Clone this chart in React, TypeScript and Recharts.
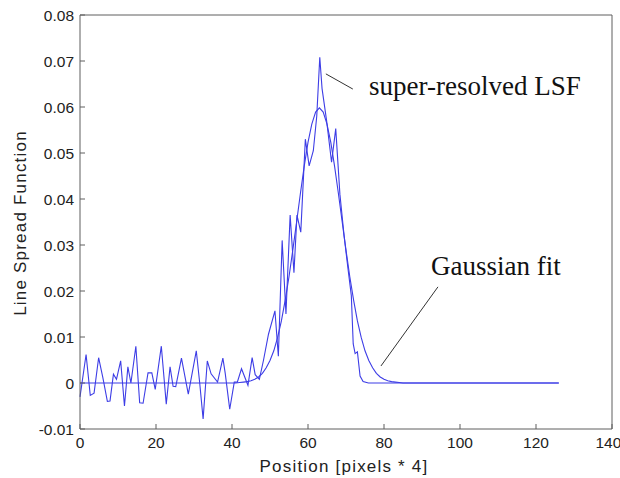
import { LineChart, Line, XAxis, YAxis, ReferenceLine, ReferenceDot } from 'recharts'

// super-resolved LSF
const lsfX = [
  0, 1.6, 2.7, 3.7, 4.9, 6.0, 7.2, 7.9, 8.8, 9.6, 10.7, 11.7, 12.6, 13.4, 14.7, 15.7, 16.6, 17.9, 18.9, 19.8,
  21.4, 22.7, 23.7, 24.5, 25.2, 26.7, 28.5, 30.6, 31.5, 32.4, 33.5, 34.5, 36.2, 37.6, 38.2, 39.4, 40.6, 41.4,
  42.5, 44.2, 45.3, 46.1, 47.2, 48.3, 49.6, 51.3, 52.2, 53.2, 54.2, 55.3, 56.3, 57.1, 58.1, 59.3, 60.3, 61.4,
  62.3, 63.1, 63.7, 64.9, 66.2, 67.3, 68.4, 69.5, 70.5, 71.4, 71.9, 72.4, 73.0, 73.7, 74.5, 75.9, 126,
]
const lsfY = [
  -0.003, 0.0062, -0.0027, -0.0022, 0.0055, 0.0012, -0.004, -0.0039, 0.0019, 0.0008, 0.0048, -0.005, 0.0035, 0.0,
  0.008, -0.0043, -0.0044, 0.0022, 0.0022, -0.0014, 0.008, -0.0046, 0.0035, -0.0007, -0.0008, 0.0054, -0.0024,
  0.007, 0.0, -0.0078, 0.0048, 0.002, 0.0002, 0.0054, 0.0022, -0.0057, 0.0002, 0.0002, 0.0031, -0.0005, 0.0055,
  0.0018, 0.0008, 0.005, 0.0106, 0.0157, 0.0058, 0.031, 0.015, 0.0365, 0.024, 0.0365, 0.0328, 0.053, 0.0472,
  0.0505, 0.058, 0.0708, 0.064, 0.057, 0.048, 0.0553, 0.041, 0.032, 0.025, 0.019, 0.0085, 0.0064, 0.0068,
  0.0015, 0.0003, 0, 0,
]

// Gaussian fit
const fitX = [
  0, 41, 42, 43, 44, 45, 46, 47, 48, 49, 50, 51, 52, 53, 54, 55, 56, 57, 58, 59, 60, 61, 62, 63,
  64, 65, 66, 67, 68, 69, 70, 71, 72, 73, 74, 75, 76, 77, 78, 79, 80, 81, 82, 83, 84, 85, 126,
]
const fitY = [
  0, 0, 0.0001, 0.0002, 0.0003, 0.0005, 0.0008, 0.0013, 0.0021, 0.0033, 0.0049, 0.007, 0.0099, 0.0135, 0.018,
  0.0231, 0.0289, 0.035, 0.0412, 0.0471, 0.0523, 0.0563, 0.0589, 0.0598, 0.0589, 0.0563, 0.0523, 0.0471, 0.0412,
  0.035, 0.0289, 0.0231, 0.018, 0.0135, 0.0099, 0.007, 0.0049, 0.0033, 0.0021, 0.0013, 0.0008, 0.0005, 0.0003,
  0.0002, 0.0001, 0, 0,
]

const xTicks = [0, 20, 40, 60, 80, 100, 120, 140]
const yTicks = [-0.01, 0, 0.01, 0.02, 0.03, 0.04, 0.05, 0.06, 0.07, 0.08]

const lsfData = lsfX.map((x, i) => ({ x, y: lsfY[i] }))
const fitData = fitX.map((x, i) => ({ x, y: fitY[i] }))

const BLUE = '#3d3de6'
const FRAME = '#5e5e5e'
const tickFont = { fontSize: 15.5, fontFamily: 'Liberation Sans, Arial, sans-serif', fill: '#222' }
const noteFont = { fontSize: 27, fontFamily: 'Liberation Serif, Times New Roman, serif', fill: '#111' }

const fmtY = (v: number) => (v === 0 ? '0' : v.toFixed(2))

export default function App() {
  return (
    <div style={{ position: 'absolute', left: 0, top: 0 }}>
      <LineChart width={620} height={478} margin={{ top: 14, right: 7, bottom: 0, left: 0 }}>
        <XAxis
          dataKey="x"
          type="number"
          domain={[0, 140]}
          ticks={xTicks}
          height={49}
          stroke={FRAME}
          tickSize={-5}
          tickMargin={13}
          tick={tickFont}
          label={(p: any) => (
            <text
              x={p.viewBox.x + p.viewBox.width / 2 - 2}
              y={472}
              textAnchor="middle"
              fontSize={17}
              letterSpacing={1.2}
              fontFamily="Liberation Sans, Arial, sans-serif"
              fill="#222"
            >
              Position [pixels * 4]
            </text>
          )}
        />
        <XAxis
          xAxisId="top"
          orientation="top"
          dataKey="x"
          type="number"
          domain={[0, 140]}
          ticks={xTicks}
          height={1}
          stroke={FRAME}
          tickSize={-5}
          tick={() => <g />}
        />
        <YAxis
          type="number"
          domain={[-0.01, 0.08]}
          ticks={yTicks}
          width={80}
          stroke={FRAME}
          tickSize={-5}
          tickMargin={11}
          tick={tickFont}
          tickFormatter={fmtY}
          label={(p: any) => {
            const cx = 20
            const cy = p.viewBox.y + p.viewBox.height / 2 + 1
            return (
              <text
                x={cx}
                y={cy}
                transform={`rotate(-90, ${cx}, ${cy})`}
                textAnchor="middle"
                dominantBaseline="central"
                fontSize={17}
                letterSpacing={1.2}
                fontFamily="Liberation Sans, Arial, sans-serif"
                fill="#222"
              >
                Line Spread Function
              </text>
            )
          }}
        />
        <YAxis
          yAxisId="right"
          orientation="right"
          type="number"
          domain={[-0.01, 0.08]}
          ticks={yTicks}
          width={1}
          stroke={FRAME}
          tickSize={-5}
          tick={() => <g />}
        />
        <Line
          data={fitData}
          dataKey="y"
          type="linear"
          stroke={BLUE}
          strokeWidth={1.1}
          dot={false}
          isAnimationActive={false}
        />
        <Line
          data={lsfData}
          dataKey="y"
          type="linear"
          stroke={BLUE}
          strokeWidth={1.1}
          dot={false}
          isAnimationActive={false}
        />
        <ReferenceLine
          segment={[{ x: 64.7, y: 0.0672 }, { x: 71.8, y: 0.0639 }]}
          stroke="#333"
          strokeWidth={1}
        />
        <ReferenceLine
          segment={[{ x: 94.2, y: 0.0209 }, { x: 79.2, y: 0.0037 }]}
          stroke="#333"
          strokeWidth={1}
        />
        <ReferenceDot
          x={76.05}
          y={0.0647}
          r={0}
          stroke="none"
          label={{ value: 'super-resolved LSF', position: 'right', offset: 0, ...noteFont }}
        />
        <ReferenceDot
          x={92.4}
          y={0.0256}
          r={0}
          stroke="none"
          label={{ value: 'Gaussian fit', position: 'right', offset: 0, ...noteFont }}
        />
      </LineChart>
    </div>
  )
}
